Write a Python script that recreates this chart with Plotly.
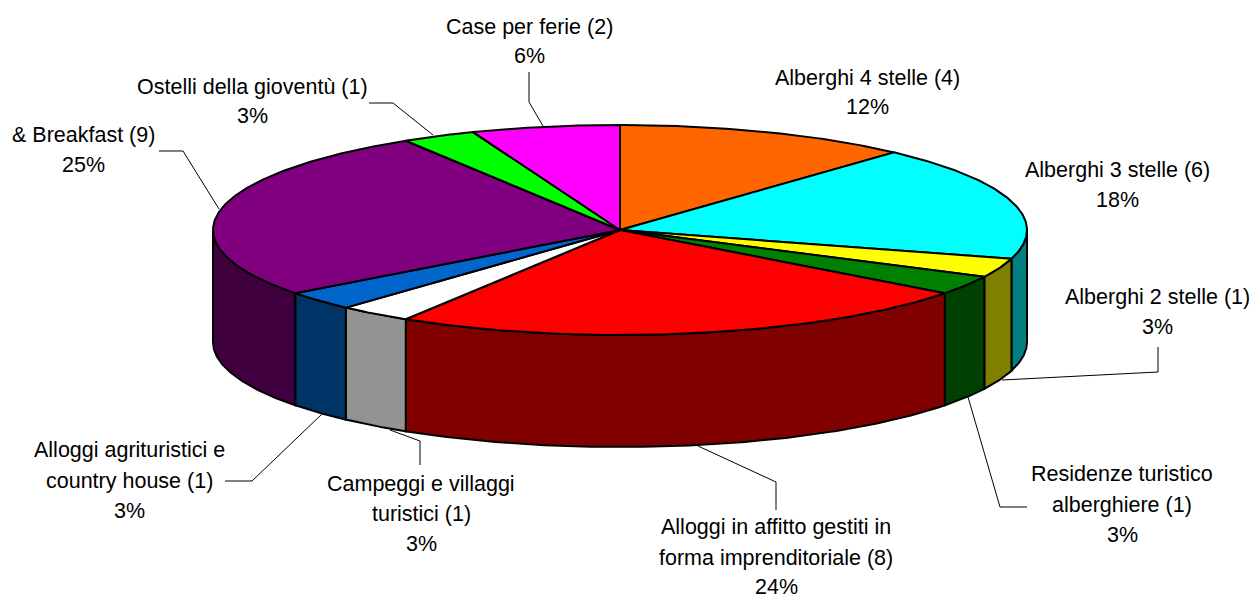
import numpy as np
import plotly.graph_objects as go

categories = ["Alberghi 4 stelle", "Alberghi 3 stelle", "Alberghi 2 stelle",
              "Residenze turistico alberghiere", "Alloggi in affitto gestiti in forma imprenditoriale",
              "Campeggi e villaggi turistici", "Alloggi agrituristici e country house",
              "& Breakfast", "Ostelli della gioventù", "Case per ferie"]
counts = [4, 6, 1, 1, 8, 1, 1, 9, 1, 2]
percents = [12, 18, 3, 3, 24, 3, 3, 25, 3, 6]
top_colors = ["#FF6600", "#00FFFF", "#FFFF00", "#008000", "#FF0000",
              "#FFFFFF", "#0066CC", "#800080", "#00FF00", "#FF00FF"]
side_colors = ["#803300", "#008080", "#808000", "#004000", "#800000",
               "#939393", "#003366", "#400040", "#008000", "#800080"]

# label layout: lines of text above the percentage, centre x, y of every line
label_lines = [
    ["Alberghi 4 stelle (4)"],
    ["Alberghi 3 stelle (6)"],
    ["Alberghi 2 stelle (1)"],
    ["Residenze turistico", "alberghiere (1)"],
    ["Alloggi in affitto gestiti in", "forma imprenditoriale (8)"],
    ["Campeggi e villaggi", "turistici (1)"],
    ["Alloggi agrituristici e", "country house (1)"],
    ["& Breakfast (9)"],
    ["Ostelli della gioventù (1)"],
    ["Case per ferie (2)"],
]
label_cx = [867, 1117, 1157, 1122, 776, 421, 129, 83, 252, 529]
label_ys = [[78, 107], [170, 200], [297, 327], [474, 505, 535], [527, 558, 587],
            [484, 514, 544], [450, 481, 511], [135, 165], [87, 116], [27, 56]]
leaders = [
    [(1158, 347), (1158, 372), (1002, 380)],
    [(1027, 507), (1000, 507), (968, 397)],
    [(776, 510), (776, 482), (698, 446)],
    [(420, 465), (420, 441), (390, 430)],
    [(225, 481), (252, 481), (322, 414)],
    [(159, 151), (183, 151), (219, 209)],
    [(369, 103), (393, 103), (433, 135)],
    [(529, 72), (529, 102), (543, 126)],
]

CX, CY, RX, RY, DEPTH = 620, 230, 407, 105, 112
FONT = "Liberation Sans"
FONT_SIZE = 21.5


def rim(a, b, dy=0.0):
    t = np.radians(np.linspace(a, b, max(2, int(abs(b - a) * 2) + 1)))
    return CX + RX * np.sin(t), CY - RY * np.cos(t) + dy


edges = np.concatenate([[0], np.cumsum(counts)]) / sum(counts) * 360
fig = go.Figure()


def poly(x, y, color, width=2):
    fig.add_trace(go.Scatter(x=np.r_[x, x[0]], y=np.r_[y, y[0]], mode="lines", fill="toself",
                             fillcolor=color, line=dict(color="black", width=width),
                             hoverinfo="skip", showlegend=False))


# side wall: only the part of the rim facing the viewer
for i, col in enumerate(side_colors):
    a, b = max(edges[i], 90), min(edges[i + 1], 270)
    if a >= b:
        continue
    x1, y1 = rim(a, b)
    x2, y2 = rim(b, a, DEPTH)
    poly(np.r_[x1, x2], np.r_[y1, y2], col)

# top face
for i, col in enumerate(top_colors):
    x1, y1 = rim(edges[i], edges[i + 1])
    poly(np.r_[CX, x1], np.r_[CY, y1], col)

# leader lines
for pts in leaders:
    xs, ys = zip(*pts)
    fig.add_trace(go.Scatter(x=xs, y=ys, mode="lines", line=dict(color="black", width=1),
                             hoverinfo="skip", showlegend=False))

# labels
for lines, p, cx, ys in zip(label_lines, percents, label_cx, label_ys):
    for txt, y in zip(lines + [f"{p}%"], ys):
        fig.add_annotation(x=cx, y=y, text=txt, showarrow=False, xanchor="center", yanchor="middle",
                           font=dict(family=FONT, size=FONT_SIZE, color="black"))

fig.update_layout(
    width=1253, height=597, margin=dict(l=0, r=0, t=0, b=0),
    paper_bgcolor="white", plot_bgcolor="white", showlegend=False,
    xaxis=dict(range=[0, 1253], visible=False, fixedrange=True),
    yaxis=dict(range=[597, 0], visible=False, fixedrange=True),
)
fig.write_html("out.html", config={"displayModeBar": False},
               post_script="document.body.style.margin='0';document.body.style.overflow='hidden';")
